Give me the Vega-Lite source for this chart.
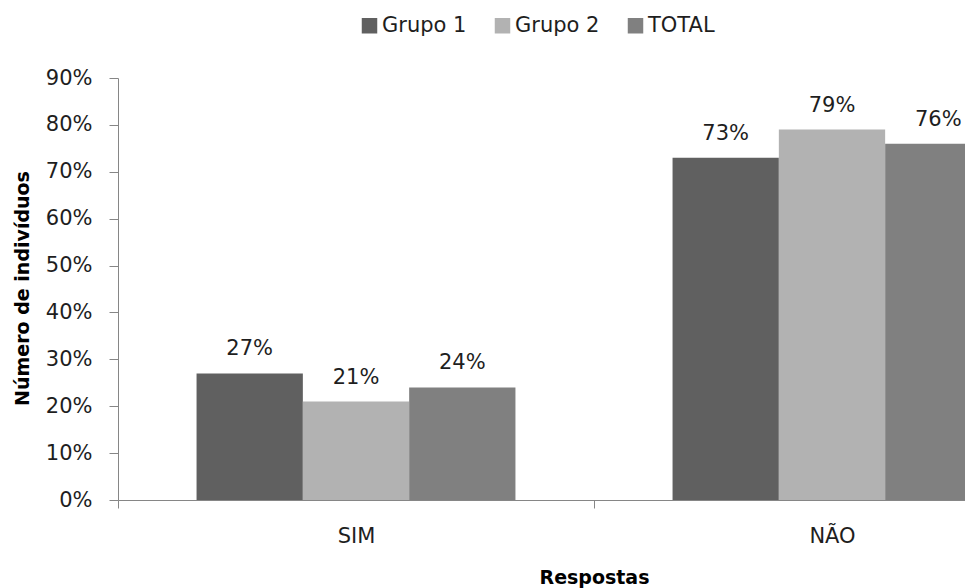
{
  "$schema": "https://vega.github.io/schema/vega-lite/v6.json",
  "width": 847,
  "height": 422,
  "autosize": {"type": "none"},
  "padding": {"left": 118, "top": 78, "right": 0, "bottom": 88},
  "background": "white",
  "config": {
    "view": {"stroke": null},
    "font": "DejaVu Sans",
    "axis": {"labelFont": "DejaVu Sans", "titleFont": "DejaVu Sans", "labelColor": "#1e1e1e", "titleColor": "#000000"}
  },
  "data": {
    "values": [
      {"resposta": "SIM", "grupo": "Grupo 1", "valor": 0.27},
      {"resposta": "SIM", "grupo": "Grupo 2", "valor": 0.21},
      {"resposta": "SIM", "grupo": "TOTAL", "valor": 0.24},
      {"resposta": "NÃO", "grupo": "Grupo 1", "valor": 0.73},
      {"resposta": "NÃO", "grupo": "Grupo 2", "valor": 0.79},
      {"resposta": "NÃO", "grupo": "TOTAL", "valor": 0.76}
    ]
  },
  "encoding": {
    "x": {
      "field": "resposta",
      "type": "nominal",
      "sort": ["SIM", "NÃO"],
      "scale": {"range": [0, 952], "paddingInner": 0, "paddingOuter": 0},
      "axis": {
        "title": "Respostas",
        "titleFontSize": 19,
        "titleFontWeight": "bold",
        "titleX": 476,
        "titleY": 83,
        "titleAlign": "center",
        "titleBaseline": "alphabetic",
        "labelAngle": 0,
        "labelFontSize": 21,
        "labelPadding": 17,
        "tickBand": "extent",
        "tickSize": 8,
        "tickColor": "#868686",
        "domainColor": "#868686",
        "grid": false
      }
    },
    "xOffset": {
      "field": "grupo",
      "sort": ["Grupo 1", "Grupo 2", "TOTAL"],
      "scale": {"paddingInner": 0, "paddingOuter": 0.739}
    },
    "y": {
      "field": "valor",
      "type": "quantitative",
      "scale": {"domain": [0, 0.9], "nice": false},
      "axis": {
        "title": "Número de indivíduos",
        "titleFontSize": 19,
        "titleFontWeight": "bold",
        "titleX": -96,
        "titleY": 210,
        "titleAngle": -90,
        "titleAlign": "center",
        "titleBaseline": "middle",
        "format": ".0%",
        "values": [0, 0.1, 0.2, 0.3, 0.4, 0.5, 0.6, 0.7, 0.8, 0.9],
        "labelFontSize": 21,
        "labelPadding": 17,
        "tickSize": 9,
        "tickColor": "#868686",
        "domainColor": "#868686",
        "grid": false
      }
    }
  },
  "layer": [
    {
      "mark": {"type": "bar"},
      "encoding": {
        "color": {
          "field": "grupo",
          "type": "nominal",
          "sort": ["Grupo 1", "Grupo 2", "TOTAL"],
          "scale": {"domain": ["Grupo 1", "Grupo 2", "TOTAL"], "range": ["#606060", "#b2b2b2", "#808080"]},
          "legend": {
            "title": null,
            "orient": "none",
            "direction": "horizontal",
            "legendX": 241,
            "legendY": -63,
            "symbolType": "square",
            "symbolSize": 240,
            "symbolStrokeWidth": 0,
            "labelFontSize": 21,
            "labelFont": "DejaVu Sans",
            "labelColor": "#1e1e1e",
            "labelOffset": 2,
            "columnPadding": 25
          }
        }
      }
    },
    {
      "mark": {"type": "text", "baseline": "alphabetic", "dy": -18, "fontSize": 21, "color": "#1e1e1e"},
      "encoding": {
        "text": {"field": "valor", "type": "quantitative", "format": ".0%"}
      }
    }
  ]
}
